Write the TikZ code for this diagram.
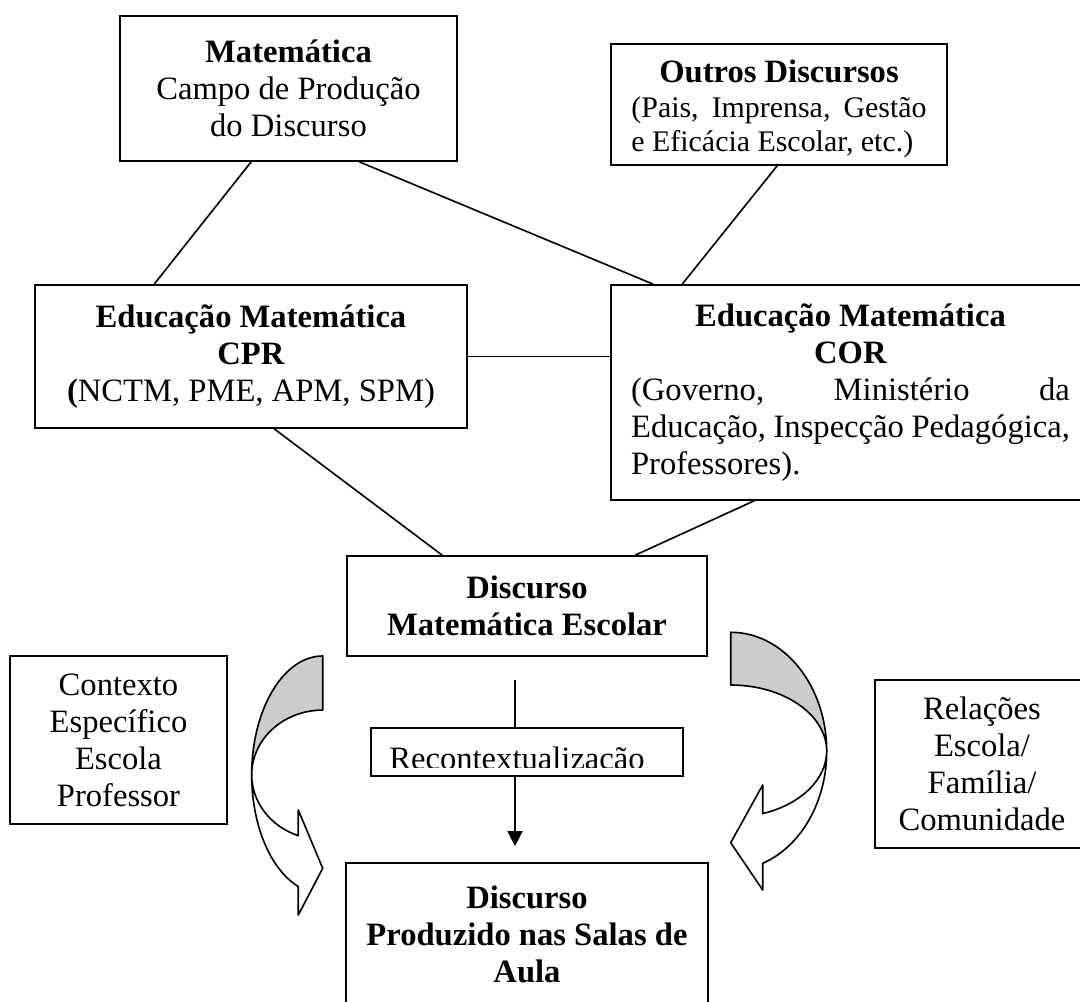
\documentclass[tikz,border=0pt]{standalone}
\usepackage{fontspec}
\setmainfont{Liberation Serif}
\usetikzlibrary{arrows.meta,positioning,calc}

\begin{document}
\begin{tikzpicture}[
  x=0.368pt, y=-0.368pt,
  every node/.style={font=\fontsize{12}{13.6}\selectfont},
  box/.style 2 args={draw, line width=0.6pt, minimum width=#1*0.368pt,
    minimum height=#2*0.368pt, inner sep=0pt, align=center},
  link/.style={line width=0.6pt},
  flow/.style={-{Triangle[length=5.5pt, width=5.5pt]}, line width=0.6pt},
  curve/.style={draw, line width=0.6pt, line join=round},
  back/.style={curve, fill=gray!40},
  front/.style={curve, fill=white}
]
\useasboundingbox (0,0) rectangle (1080,1002);

% --- nodes (absolute placement on the pixel grid of the reference) ---
\node[box={337}{145}] (mat) at (288.5,88.5)
  {\textbf{Matemática}\\ Campo de Produção\\ do Discurso};
\node[box={336}{121}, font=\fontsize{11}{12.6}\selectfont] (out) at (779,104.5)
  {\rule{0pt}{11.7pt}{\fontsize{12}{12.6}\selectfont\textbf{Outros Discursos}}\\
   \makebox[108.6pt][s]{(Pais, Imprensa, Gestão}\\
   \makebox[108.6pt][l]{e Eficácia Escolar, etc.)}};
\node[box={432}{143}] (cpr) at (251,356.5)
  {\textbf{Educação Matemática}\\ \textbf{CPR}\\ \textbf{(}NCTM, PME, APM, SPM)};
\node[box={479}{215}] (cor) at (850.5,392.5)
  {\textbf{Educação Matemática}\\ \textbf{COR}\\
   \makebox[161.5pt][s]{(Governo,\hfill Ministério\hfill da}\\
   \makebox[161.5pt][s]{Educação, Inspecção Pedagógica,}\\
   \makebox[161.5pt][l]{Professores).}};
\node[box={360}{100}] (mesc) at (527,606)
  {\textbf{Discurso}\\ \textbf{Matemática Escolar}};
\node[box={217}{168}] (ctx) at (118.5,740)
  {Contexto\\ Específico\\ Escola\\ Professor};
\node[box={214}{168}] (rel) at (982,764)
  {Relações\\ Escola/\\ Família/\\ Comunidade};
\node[box={362}{142}] (prod) at (527,934)
  {\textbf{Discurso}\\ \textbf{Produzido nas Salas de}\\ \textbf{Aula}};

% --- connectors between the boxes ---
\draw[link] ($(mat.south west)+(132,0)$) -- ($(cpr.north west)+(120,0)$);
\draw[link] ($(mat.south west)+(240,0)$) -- ($(cor.north west)+(43,0)$);
\draw[link] ($(out.south west)+(167,0)$) -- ($(cor.north west)+(72,0)$);
\draw[link] (cpr.east) -- (cpr.east -| cor.west);
\draw[link] ($(cpr.south west)+(240,0)$) -- ($(mesc.north west)+(96,0)$);
\draw[link] ($(cor.south west)+(144,0)$) -- ($(mesc.north west)+(289,0)$);

% recontextualisation arrow, box laid over it
\coordinate (rtop) at (515,680);
\draw[flow, shorten >=5.9pt] (rtop) -- (rtop |- prod.north);
\node[box={312}{48}, fill=white] (recon) at (527,752) {};
\begin{scope}
  \clip (recon.north west) rectangle ($(recon.south east)+(0,-9)$);
  \node[anchor=base, inner sep=0pt] (recontxt) at (517,770) {Recontextualização};
\end{scope}

% --- curved arrows (ellipse arcs) ---
% left one, bending down to the right
\coordinate (lc) at (322.7,774.9);
\path[back] ($(lc)+(0,-118.9)$)
  arc[start angle=90, end angle=180, x radius=26.13pt, y radius=43.76pt]
  arc[start angle=180, end angle=90, x radius=26.13pt, y radius=23.85pt] -- cycle;
\path[front] ($(lc)+(-71,0)$)
  arc[start angle=180, end angle=249.9, x radius=26.13pt, y radius=43.76pt]
  -- (298.3,915) -- (322.7,868.3) -- (298.3,810) -- (298.3,835.7)
  arc[start angle=249.9, end angle=180, x radius=26.13pt, y radius=23.85pt] -- cycle;

% right one, bending down to the left
\coordinate (rc) at (730.7,751.2);
\path[back] ($(rc)+(0,-118.9)$)
  arc[start angle=90, end angle=0, x radius=35.33pt, y radius=43.76pt]
  arc[start angle=0, end angle=90, x radius=35.33pt, y radius=24.36pt] -- cycle;
\path[front] ($(rc)+(96,0)$)
  arc[start angle=0, end angle=-70.5, x radius=35.33pt, y radius=43.76pt]
  -- (762.7,890) -- (730.7,842.7) -- (762.7,785) -- (762.7,813.6)
  arc[start angle=-70.5, end angle=0, x radius=35.33pt, y radius=24.36pt] -- cycle;

\end{tikzpicture}
\end{document}
